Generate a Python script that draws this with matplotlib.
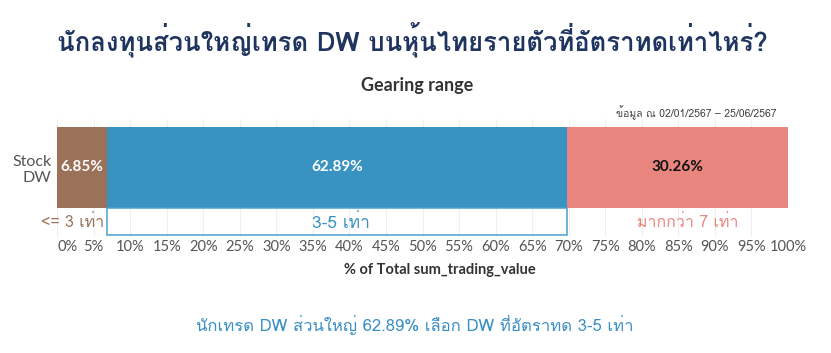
import matplotlib
matplotlib.use("Agg")
import matplotlib.pyplot as plt
from matplotlib import font_manager
from matplotlib.ft2font import FT2Font

# data
segments = ["<= 3 เท่า", "3-5 เท่า", "มากกว่า 7 เท่า"]
shares = [6.85, 62.89, 30.26]
seg_colors = ["#9c7159", "#3893c2", "#e9857f"]
label_colors = ["white", "white", "#111111"]
ticks = list(range(0, 101, 5))

title = "นักลงทุนส่วนใหญ่เทรด DW บนหุ้นไทยรายตัวที่อัตราทดเท่าไหร่?"
subtitle = "Gearing range"
date_note = "ข้อมูล ณ 02/01/2567 – 25/06/2567"
xlabel = "% of Total sum_trading_value"
caption = "นักเทรด DW ส่วนใหญ่ 62.89% เลือก DW ที่อัตราทด 3-5 เท่า"


def thai_fonts():
    names = []
    for f in font_manager.fontManager.ttflist:
        try:
            if 0x0E01 in FT2Font(f.fname).get_charmap():
                names.append(f.name)
        except Exception:
            pass
    return list(dict.fromkeys(names))


th = thai_fonts()
plt.rcParams["font.family"] = ["Lato"] + th + ["DejaVu Sans"]
thai_first = th + ["DejaVu Sans"]

fig = plt.figure(figsize=(8.31, 3.53), dpi=100)
W, H = 831, 353
ax = fig.add_axes([57 / W, (H - 237) / H, (788 - 57) / W, 118 / H])

left = 0
for i, (s, v, c, lc) in enumerate(zip(segments, shares, seg_colors, label_colors)):
    ax.barh(0, v, left=left, height=1.0, color=c, edgecolor="none", zorder=3)
    ax.text(left + v / 2, 0, f"{v:.2f}%", ha="center", va="center",
            color=lc, fontsize=11, fontweight="bold", zorder=4)
    if i == 0:
        ax.text(left + v - 0.4, -0.68, s, ha="right", va="center",
                color=c, fontsize=11.5, zorder=4, family=thai_first)
    else:
        ax.text(left + v / 2 + (1.4 if i == 2 else 0.6), -0.68, s, ha="center",
                va="center", color=c, fontsize=12.5 if i == 1 else 11.5,
                zorder=4, family=thai_first)
    left += v

# highlight box under the biggest segment
ax.add_patch(plt.Rectangle((shares[0], -0.83), shares[1], 0.33, fill=False,
                           edgecolor="#4d9fd0", linewidth=1.1, zorder=4))

ax.set_xlim(0, 100)
ax.set_ylim(-0.86, 0.6)
ax.set_xticks(ticks)
ax.set_xticklabels([f"{t}%" for t in ticks], color="#555555", fontsize=10.5)
ax.get_xticklabels()[0].set_horizontalalignment("left")
ax.tick_params(axis="x", length=0, pad=2.5)
ax.set_yticks([0])
ax.set_yticklabels(["Stock\nDW"], color="#555555", fontsize=11.5, ha="right")
ax.tick_params(axis="y", length=0, pad=4)
ax.grid(axis="x", color="#eeeeee", linewidth=0.8, zorder=0)
for sp in ax.spines.values():
    sp.set_visible(False)

fig.text(412 / W, 1 - 40 / H, title, ha="center", va="center",
         fontsize=18.5, fontweight="bold", color="#1f3560", family=thai_first)
fig.text(417 / W, 1 - 85 / H, subtitle, ha="center", va="center",
         fontsize=13, color="#333333", fontweight="bold")
fig.text(777 / W, 1 - 113 / H, date_note, ha="right", va="center",
         fontsize=7.5, color="#444444", family=thai_first)
fig.text(440 / W, 1 - 270 / H, xlabel, ha="center", va="center",
         fontsize=10.5, color="#333333", fontweight="bold")
fig.text(415 / W, 1 - 325 / H, caption, ha="center", va="center",
         fontsize=12, color="#3a8fc4", family=thai_first)

fig.savefig("out.png", dpi=100)
